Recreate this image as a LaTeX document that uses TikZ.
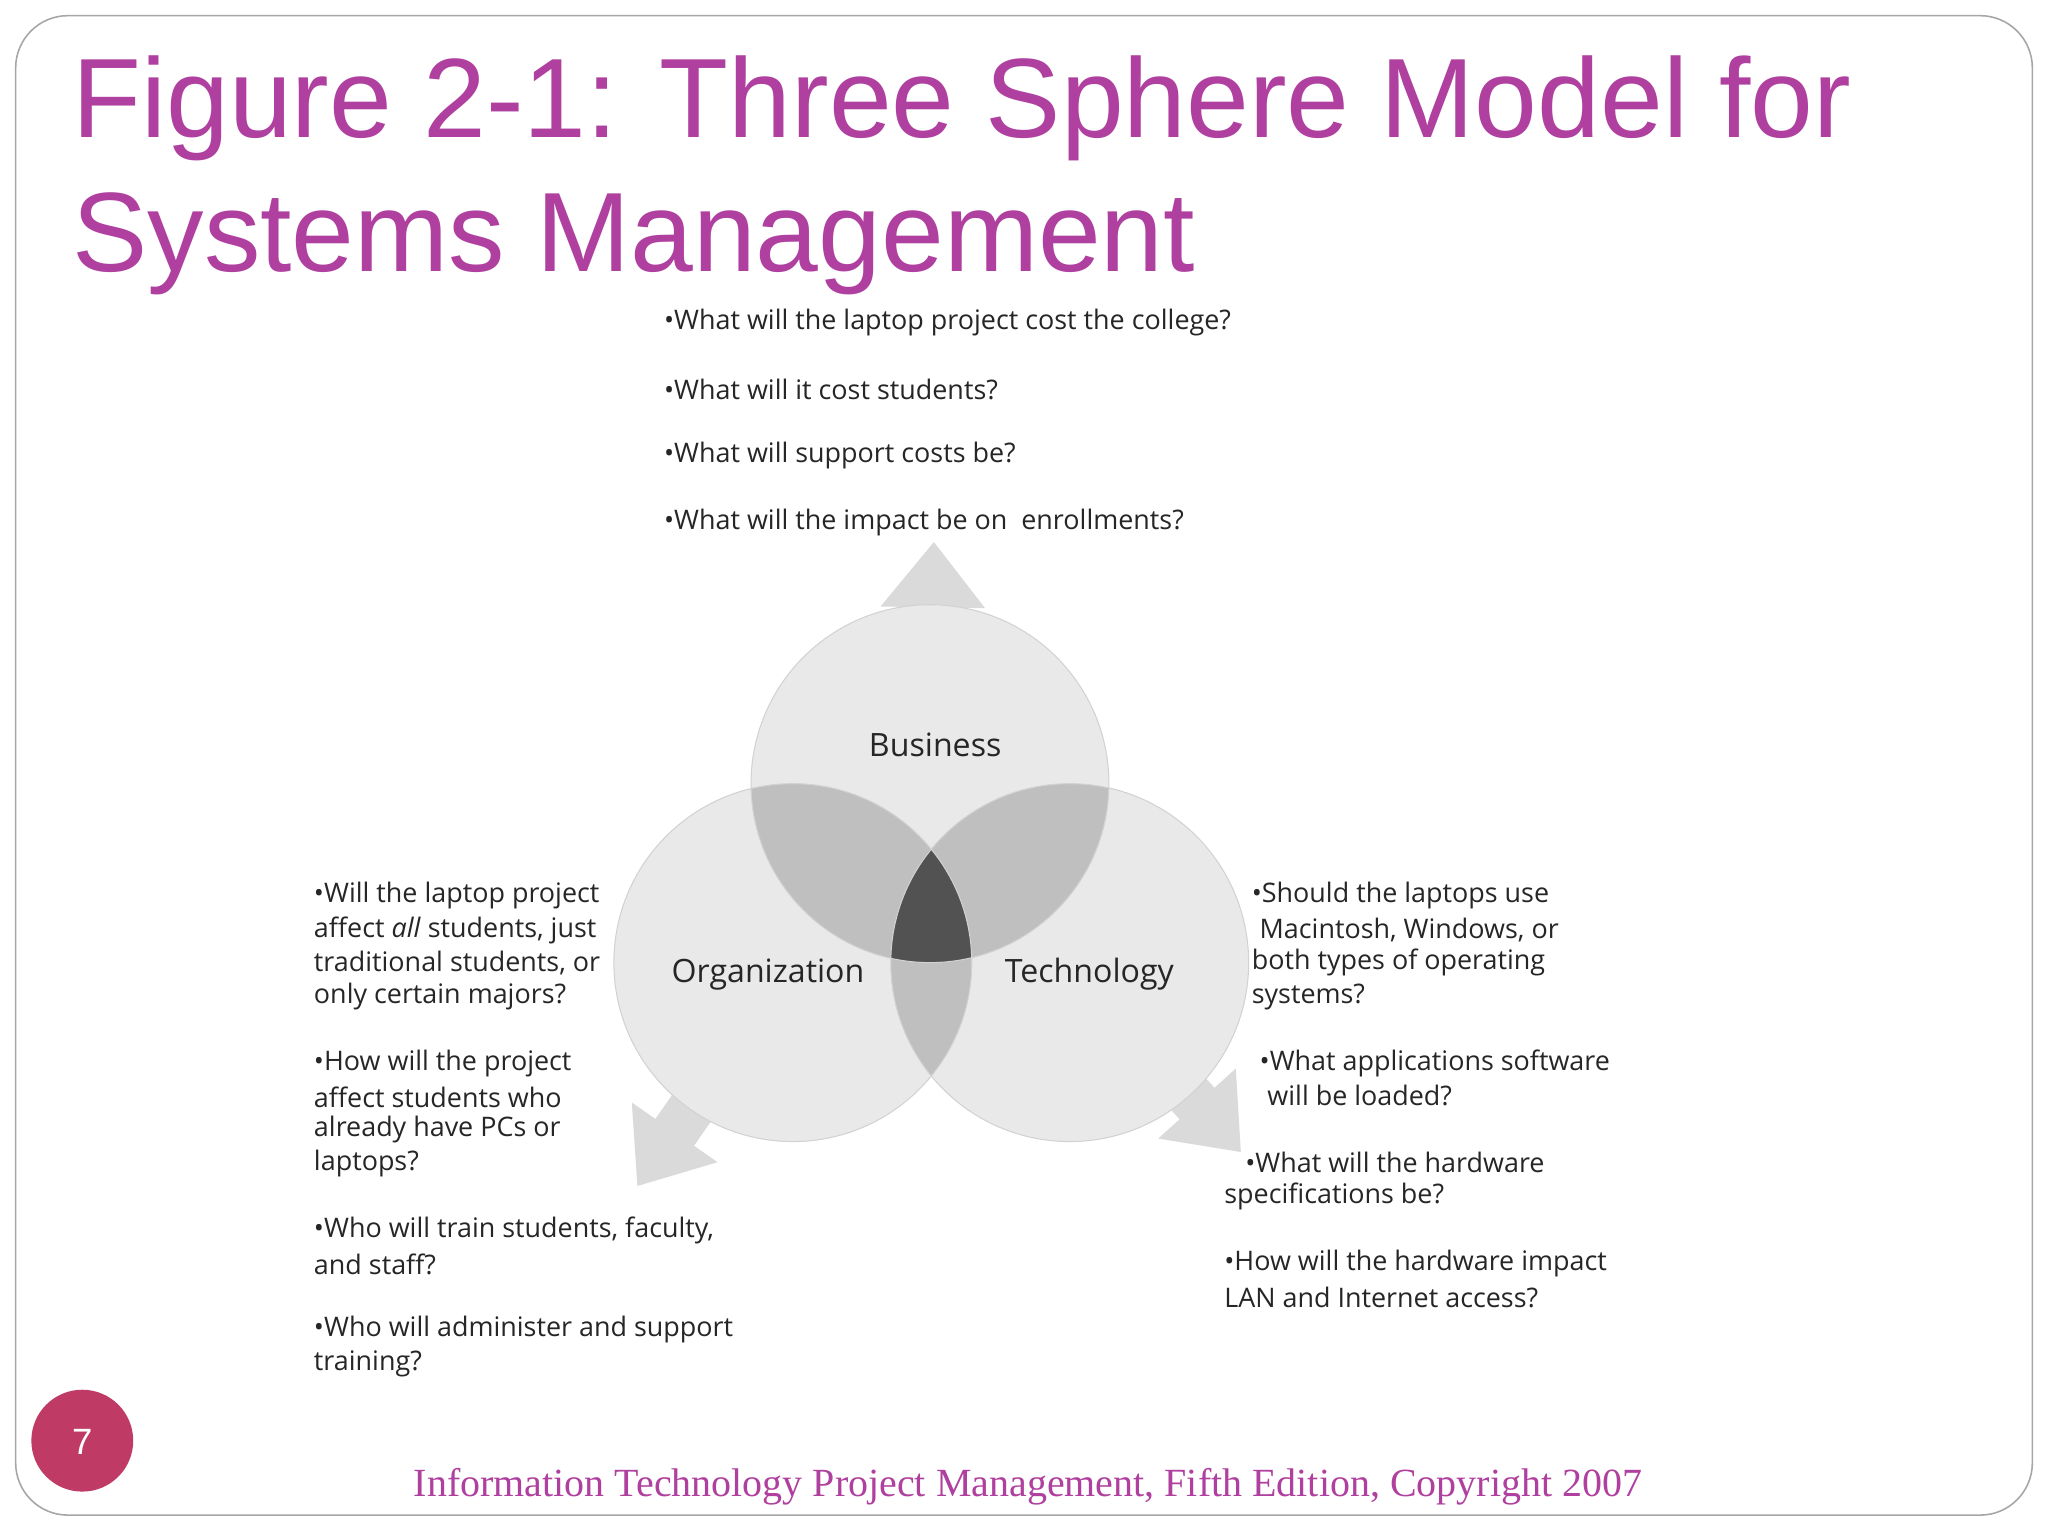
\documentclass[tikz,border=0pt]{standalone}
\usepackage{fontspec}
\setmainfont{Liberation Serif}
\newfontfamily\titlefont{Liberation Sans}
\newfontfamily\bodyfont{Open Sans}
\usetikzlibrary{calc}
\definecolor{titlec}{HTML}{B0409F}
\definecolor{pagec}{HTML}{C03A66}
\definecolor{arrowg}{HTML}{DADADA}
\tikzset{
 txt/.style={anchor=west,inner sep=0,font=\bodyfont\fontsize{10.3}{12}\selectfont,text=black!85},
 lbl/.style={inner sep=0,font=\bodyfont\fontsize{12.3}{14}\selectfont,text=black!85},
 ttl/.style={anchor=base west,inner sep=0,font=\titlefont\fontsize{43.2}{48}\selectfont,text=titlec}
}
\newcommand{\blockarrow}[2]{%
 \coordinate (hb#2) at ($(#2)!25pt!(#1)$);
 \fill[arrowg] ($(#1)!9pt!90:(#2)$) -- ($(hb#2)!9pt!90:(#2)$) -- ($(hb#2)!20pt!90:(#2)$) -- (#2)
  -- ($(hb#2)!20pt!-90:(#2)$) -- ($(hb#2)!9pt!-90:(#2)$) -- ($(#1)!9pt!-90:(#2)$) -- cycle;}
\begin{document}
\begin{tikzpicture}[x=0.5pt,y=-0.5pt]
\useasboundingbox (0,0) rectangle (1568,1176);
\fill[white] (0,0) rectangle (1568,1176);
\draw[gray!70,line width=0.6pt,rounded corners=20pt] (12,12) rectangle (1556,1160);
\node[ttl] (t1) at (55,105) {Figure 2-1: Three Sphere Model for};
\node[ttl] (t2) at (55,208) {Systems Management};
% centers
\coordinate (cb) at (712,600);
\coordinate (co) at (607,737);
\coordinate (ct) at (819,737);
\coordinate (tb) at (715,415);
\coordinate (to) at (488,908);
\coordinate (tt) at (950,882);
\blockarrow{cb}{tb}
\blockarrow{co}{to}
\blockarrow{ct}{tt}
\def\R{137}
\fill[gray!17] (cb) circle[radius=\R] (co) circle[radius=\R] (ct) circle[radius=\R];
\begin{scope}\clip (cb) circle[radius=\R]; \fill[gray!50] (co) circle[radius=\R] (ct) circle[radius=\R];\end{scope}
\begin{scope}\clip (co) circle[radius=\R]; \fill[gray!50] (ct) circle[radius=\R];\end{scope}
\begin{scope}\clip (cb) circle[radius=\R]; \clip (co) circle[radius=\R]; \fill[black!68] (ct) circle[radius=\R];\end{scope}
\draw[gray!35,line width=0.4pt] (cb) circle[radius=\R] (co) circle[radius=\R] (ct) circle[radius=\R];
\node[lbl] (lb) at (716,570) {Business};
\node[lbl] (lo) at (588,746) {Organization};
\node[lbl] (lt) at (834,746) {Technology};
% top text
\node[txt] (a1) at (508,247) {•What will the laptop project cost the college?};
\node[txt] (a2) at (508,298) {•What will it cost students?};
\node[txt] (a3) at (508,349) {•What will support costs be?};
\node[txt] (a4) at (508,400) {•What will the impact be on\ \ enrollments?};
% left text
\node[txt] (l1) at (240,686) {•Will the laptop project};
\node[txt] (l2) at (240,712) {affect \textit{all} students, just};
\node[txt] (l3) at (240,737) {traditional students, or};
\node[txt] (l4) at (240,763) {only certain majors?};
\node[txt] (l5) at (240,814) {•How will the project};
\node[txt] (l6) at (240,840) {affect students who};
\node[txt] (l7) at (240,865) {already have PCs or};
\node[txt] (l8) at (240,891) {laptops?};
\node[txt] (l9) at (240,942) {•Who will train students, faculty,};
\node[txt] (l10) at (240,968) {and staff?};
\node[txt] (l11) at (240,1018) {•Who will administer and support};
\node[txt] (l12) at (240,1044) {training?};
% right text
\node[txt] (r1) at (958,686) {•Should the laptops use};
\node[txt] (r2) at (964,712) {Macintosh, Windows, or};
\node[txt] (r3) at (958,737) {both types of operating};
\node[txt] (r4) at (958,763) {systems?};
\node[txt] (r5) at (964,814) {•What applications software};
\node[txt] (r6) at (970,839) {will be loaded?};
\node[txt] (r7) at (953,890) {•What will the hardware};
\node[txt] (r8) at (937,916) {specifications be?};
\node[txt] (r9) at (937,967) {•How will the hardware impact};
\node[txt] (r10) at (937,993) {LAN and Internet access?};
% page number and footer
\fill[pagec] (63,1103) circle[radius=39];
\node[inner sep=0,text=white,font=\titlefont\fontsize{14}{16}\selectfont] (pg) at (63,1104) {7};
\node[inner sep=0,text=titlec,font=\fontsize{15.3}{18}\selectfont] (ft) at (787,1138) {Information Technology Project Management, Fifth Edition, Copyright 2007};
\end{tikzpicture}
\end{document}
